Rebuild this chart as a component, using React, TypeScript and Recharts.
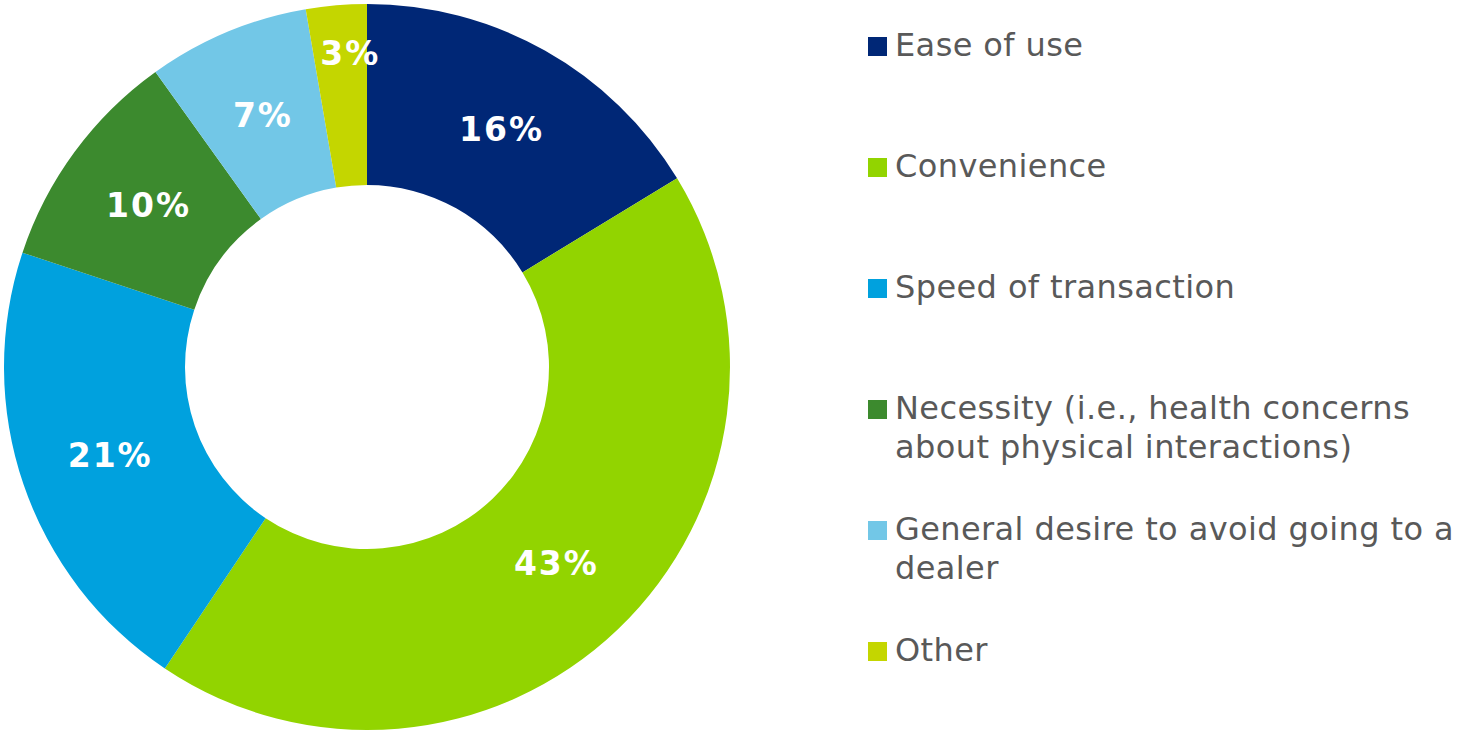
import { PieChart, Pie, Cell, Legend } from 'recharts';

const categories = [
  'Ease of use',
  'Convenience',
  'Speed of transaction',
  'Necessity (i.e., health concerns about physical interactions)',
  'General desire to avoid going to a dealer',
  'Other',
];
const shares = [16.3, 43.1, 20.7, 10.0, 7.2, 2.7];
const shareLabels = ['16%', '43%', '21%', '10%', '7%', '3%'];
const colors = ['#002776', '#92D400', '#00A1DE', '#3C8A2E', '#72C7E7', '#C4D600'];

const data = categories.map((name, i) => ({ name, value: shares[i], label: shareLabels[i] }));

const RAD = Math.PI / 180;
const FONT = 'Verdana, "DejaVu Sans", sans-serif';

function SliceLabel(props: any) {
  const { cx, cy, midAngle, innerRadius, outerRadius, index } = props;
  // the tiny slice gets its label pushed out toward the rim (and nudged off the edge)
  const small = shares[index] < 5;
  const r = small ? outerRadius - 48 : (innerRadius + outerRadius) / 2;
  const x = cx + r * Math.cos(-midAngle * RAD) + (small ? 10 : 1);
  const y = cy + r * Math.sin(-midAngle * RAD);
  return (
    <text
      x={x}
      y={y}
      fill="#ffffff"
      textAnchor="middle"
      dominantBaseline="central"
      style={{ fontFamily: FONT, fontWeight: 'bold', fontSize: 33, letterSpacing: 2 }}
    >
      {shareLabels[index]}
    </text>
  );
}

function LegendList() {
  return (
    <div style={{ position: 'relative', width: 580, height: 733 }}>
      {categories.map((name, i) => (
        <div
          key={name}
          style={{
            position: 'absolute',
            left: 0,
            top: 26 + i * 121,
            display: 'flex',
            alignItems: 'flex-start',
          }}
        >
          <div
            style={{
              width: 19,
              height: 19,
              background: colors[i],
              marginTop: 11,
              marginRight: 8,
              flexShrink: 0,
            }}
          />
          <div
            style={{
              width: 565,
              fontFamily: FONT,
              fontSize: 32,
              letterSpacing: 0.4,
              lineHeight: '39px',
              color: '#595959',
            }}
          >
            {name}
          </div>
        </div>
      ))}
    </div>
  );
}

export default function App() {
  return (
    <div style={{ position: 'absolute', left: 0, top: 0, width: 1457, height: 733, background: '#fff' }}>
      <PieChart width={1457} height={733} margin={{ top: 0, right: 0, bottom: 0, left: 0 }}>
        <Pie
          data={data}
          dataKey="value"
          nameKey="name"
          cx={367}
          cy={367}
          innerRadius={182}
          outerRadius={363}
          startAngle={90}
          endAngle={-270}
          stroke="none"
          label={SliceLabel}
          labelLine={false}
          isAnimationActive={false}
        >
          {data.map((d, i) => (
            <Cell key={d.name} fill={colors[i]} />
          ))}
        </Pie>
        <Legend
          content={() => <LegendList />}
          wrapperStyle={{ left: 868, top: 0, width: 580, height: 733 }}
        />
      </PieChart>
    </div>
  );
}
